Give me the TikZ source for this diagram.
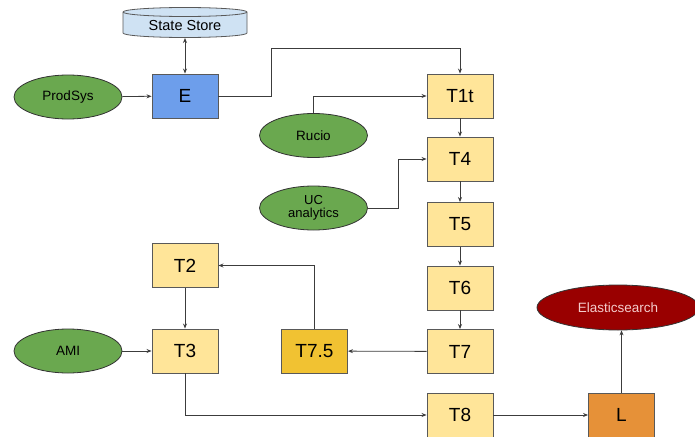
\documentclass[tikz,border=0pt]{standalone}
\usepackage{fontspec}
\setmainfont{Liberation Sans}
\usetikzlibrary{arrows.meta,shapes.geometric}
\definecolor{boxline}{HTML}{595959}
\definecolor{wire}{HTML}{3C3C3C}
\definecolor{ebox}{HTML}{6D9EEB}
\definecolor{tbox}{HTML}{FFE599}
\definecolor{tgold}{HTML}{F1C232}
\definecolor{lbox}{HTML}{E69138}
\definecolor{green}{HTML}{6AA84F}
\definecolor{esred}{HTML}{990000}
\definecolor{eslabel}{HTML}{F4CCCC}
\definecolor{store}{HTML}{CFE2F3}
\tikzset{
  stage/.style={draw=boxline, line width=0.9pt, minimum width=66pt, minimum height=44pt,
    inner sep=0pt, font=\fontsize{19}{21}\selectfont, fill=tbox},
  source/.style={ellipse, draw=black!80, line width=0.8pt, fill=green,
    minimum width=108pt, minimum height=44pt, inner sep=0pt,
    font=\fontsize{13.5}{15}\selectfont, align=center},
  flow/.style={draw=wire, line width=0.8pt, -{Stealth[length=5pt,width=4pt]}},
}
\begin{document}
\begin{tikzpicture}[x=1pt,y=-1pt]
\useasboundingbox (0,0) rectangle (695,436);

% state store cylinder (y grows downward here, so angle 90 points down)
\filldraw[fill=store, draw=boxline, line width=0.8pt]
  (123,12) -- (123,33) arc[start angle=180, end angle=0, x radius=62, y radius=4.5]
  -- (247,12) arc[start angle=0, end angle=-180, x radius=62, y radius=4.5] -- cycle;
\draw[boxline, line width=0.8pt] (247,12) arc[start angle=0, end angle=180, x radius=62, y radius=4.5];
\node[font=\fontsize{14.5}{16}\selectfont, inner sep=0pt] (ss) at (185,26) {State Store};
\coordinate (ssb) at (185,38);

% stages
\node[stage, fill=ebox] (E) at (185,96) {E};
\node[stage] (T1t) at (460,96) {T1t};
\node[stage] (T4) at (460,159) {T4};
\node[stage] (T5) at (460,224.5) {T5};
\node[stage] (T6) at (460,288) {T6};
\node[stage] (T7) at (460,351.5) {T7};
\node[stage] (T8) at (460,415) {T8};
\node[stage] (T2) at (185,265.5) {T2};
\node[stage] (T3) at (185,351) {T3};
\node[stage, fill=tgold] (T75) at (314.5,351) {T7.5};
\node[stage, fill=lbox] (L) at (621.5,415) {L};

% sources and sink
\node[source] (prod) at (68,97) {ProdSys};
\node[source] (rucio) at (313.5,135.5) {Rucio};
\node[source, font=\fontsize{13}{14.5}\selectfont] (uc) at (313.5,208) {UC\\[-1pt]analytics};
\node[source] (ami) at (68,351) {AMI};
\node[ellipse, draw=black!80, line width=0.8pt, fill=esred, text=eslabel,
  minimum width=162pt, minimum height=45pt, inner sep=0pt,
  font=\fontsize{13.5}{15}\selectfont] (es) at (618,307.5) {Elasticsearch};

% connectors
\draw[flow, {Stealth[length=5pt,width=4pt]}-{Stealth[length=5pt,width=4pt]}] (ssb) -- (E.north);
\draw[flow] (prod) -- (E);
\draw[flow] (E.east) -- (271,96) -- (271,48) -| (T1t.north);
\draw[flow] (rucio.north) |- (T1t.west);
\draw[flow] (uc.east) -- (398,208) |- (T4.west);
\draw[flow] (T1t) -- (T4);
\draw[flow] (T4) -- (T5);
\draw[flow] (T5) -- (T6);
\draw[flow] (T6) -- (T7);
\draw[flow] (T7) -- (T75);
\draw[flow] (T75.north) |- (T2.east);
\draw[flow] (T2) -- (T3);
\draw[flow] (ami) -- (T3);
\draw[flow] (T3.south) |- (T8.west);
\draw[flow] (T8) -- (L);
\draw[flow] (L.north) -- (L.north |- es.south);
\end{tikzpicture}
\end{document}
